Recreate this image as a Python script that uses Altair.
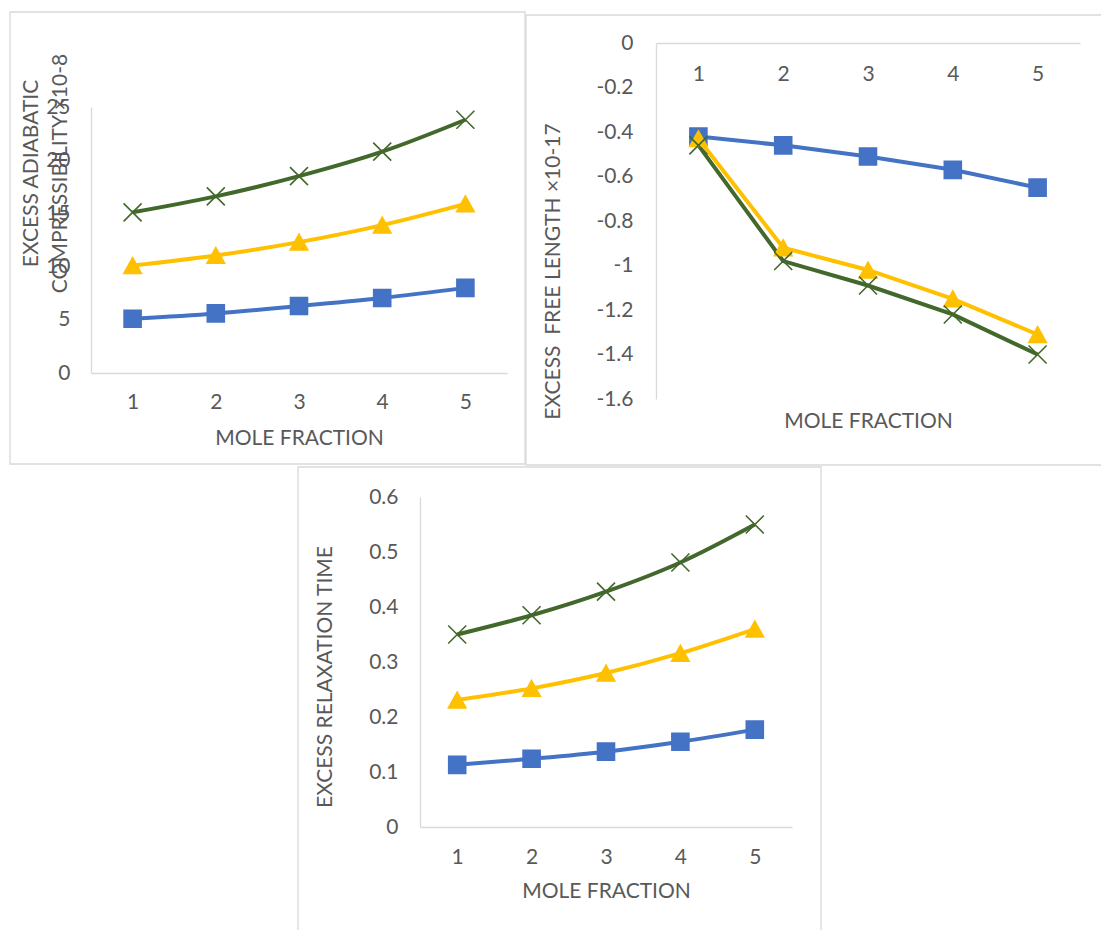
import altair as alt
import pandas as pd

# ---------------- data ----------------
mole_fraction = [1, 2, 3, 4, 5]
series_names = ["Series1", "Series2", "Series3"]
series_colors = ["#4472C4", "#FFC000", "#43682B"]

# Panel 1: excess adiabatic compressibility x10-8
comp_s1 = [5.1, 5.6, 6.3, 7.05, 8.0]
comp_s2 = [10.1, 11.05, 12.3, 13.9, 15.9]
comp_s3 = [15.1, 16.6, 18.5, 20.8, 23.8]

# Panel 2: excess free length x10-17
free_s1 = [-0.42, -0.46, -0.51, -0.57, -0.65]
free_s2 = [-0.43, -0.92, -1.02, -1.15, -1.31]
free_s3 = [-0.46, -0.98, -1.09, -1.22, -1.40]

# Panel 3: excess relaxation time
relax_s1 = [0.113, 0.124, 0.137, 0.155, 0.177]
relax_s2 = [0.231, 0.252, 0.280, 0.316, 0.360]
relax_s3 = [0.350, 0.385, 0.428, 0.481, 0.550]

comp_ticks = [0, 5, 10, 15, 20, 25]
free_ticks = [0, -0.2, -0.4, -0.6, -0.8, -1.0, -1.2, -1.4, -1.6]
relax_ticks = [0, 0.1, 0.2, 0.3, 0.4, 0.5, 0.6]

FONT = "Lato"
TXT = "#595959"
AXC = "#D9D9D9"
FS = 21

TRI = "M0,-0.9L1,0.9L-1,0.9Z"
XSHAPE = "M-1,-1L1,1M-1,1L1,-1"


def to_long(vals_list):
    rows = []
    for s, vals in zip(series_names, vals_list):
        for x, v in zip(mole_fraction, vals):
            rows.append({"series": s, "x": x, "y": v})
    return pd.DataFrame(rows)


color_scale = alt.Scale(domain=series_names, range=series_colors)
shape_scale = alt.Scale(domain=series_names, range=["square", TRI, XSHAPE])
size_scale = alt.Scale(domain=series_names, range=[289, 324, 225])


def panel(df, xr, x_axis_y, yr, ydom, yticks, y_axis_x, ytitle, ytitle_x,
          ytitle_y, xtitle_y, xlabpad, ylabpad, interp, label_expr=None,
          yformat=None):
    xaxis = alt.Axis(
        orient="bottom", offset=x_axis_y - 930, labelAngle=0, ticks=False,
        grid=False, domainColor=AXC, domainWidth=1.3, labelColor=TXT,
        labelFont=FONT, labelFontSize=FS, labelPadding=xlabpad,
        title="MOLE FRACTION", titleFont=FONT, titleFontSize=FS,
        titleFontWeight="normal", titleColor=TXT,
        titleX=(xr[0] + xr[1]) / 2, titleY=xtitle_y - x_axis_y,
        titleAlign="center", titleBaseline="alphabetic",
    )
    yaxis_kw = dict(
        orient="left", offset=-y_axis_x, values=yticks, ticks=False,
        grid=False, domainColor=AXC, domainWidth=1.3, labelColor=TXT,
        labelFont=FONT, labelFontSize=FS, labelPadding=ylabpad,
        title=ytitle, titleFont=FONT, titleFontSize=FS,
        titleFontWeight="normal", titleColor=TXT, titleAngle=270,
        titleX=ytitle_x - y_axis_x, titleY=ytitle_y, titleAlign="center",
        titleBaseline="alphabetic", titleLineHeight=29,
    )
    if label_expr:
        yaxis_kw["labelExpr"] = label_expr
    if yformat:
        yaxis_kw["format"] = yformat
    yaxis = alt.Axis(**yaxis_kw)

    x_enc = alt.X("x:O", scale=alt.Scale(range=xr, padding=0.5), axis=xaxis)
    y_enc = alt.Y("y:Q", scale=alt.Scale(domain=ydom, range=yr, nice=False,
                                         zero=False), axis=yaxis)
    line = alt.Chart().mark_line(strokeWidth=4, interpolate=interp).encode(
        x=x_enc, y=y_enc,
        color=alt.Color("series:N", scale=color_scale, legend=None),
        detail="series:N",
    )
    pts = alt.Chart().mark_point(filled=True, opacity=1, strokeWidth=1.6).encode(
        x=alt.X("x:O"), y=alt.Y("y:Q"),
        color=alt.Color("series:N", scale=color_scale, legend=None),
        stroke=alt.Stroke("series:N", scale=color_scale, legend=None),
        shape=alt.Shape("series:N", scale=shape_scale, legend=None),
        size=alt.Size("series:N", scale=size_scale, legend=None),
    )
    return alt.layer(line, pts, data=df)


p1 = panel(to_long([comp_s1, comp_s2, comp_s3]),
           xr=[91, 507], x_axis_y=373, yr=[373, 107], ydom=[0, 25],
           yticks=comp_ticks, y_axis_x=91,
           ytitle=["EXCESS ADIABATIC", "COMPRESSIBILITY ×10-8"],
           ytitle_x=37.5, ytitle_y=173, xtitle_y=444.5, xlabpad=18,
           ylabpad=21, interp="monotone")

p2 = panel(to_long([free_s1, free_s2, free_s3]),
           xr=[656, 1080], x_axis_y=43, yr=[399, 43], ydom=[-1.6, 0],
           yticks=free_ticks, y_axis_x=656,
           ytitle="EXCESS\u00a0 FREE LENGTH ×10-17",
           ytitle_x=559, ytitle_y=271, xtitle_y=427.5, xlabpad=20,
           ylabpad=23, interp="linear",
           label_expr="datum.value < 0 ? '-' + format(-datum.value, '.1~f') : format(datum.value, '.1~f')")

p3 = panel(to_long([relax_s1, relax_s2, relax_s3]),
           xr=[420, 792], x_axis_y=827, yr=[827, 497], ydom=[0, 0.6],
           yticks=relax_ticks, y_axis_x=420,
           ytitle="EXCESS RELAXATION TIME",
           ytitle_x=331.5, ytitle_y=676.5, xtitle_y=897.5, xlabpad=19,
           ylabpad=22, interp="monotone", yformat=".1~f")


def border(x0, y0, x1, y1):
    return alt.Chart(alt.Data(values=[{"k": 1}])).mark_rect(
        fillOpacity=0, stroke="#D9D9D9", strokeWidth=1.3
    ).encode(x=alt.value(x0), x2=alt.value(x1), y=alt.value(y0), y2=alt.value(y1))


chart = alt.layer(
    border(10, 12, 525, 464),
    border(526, 15, 1110, 465),
    border(298, 467, 821, 940),
    p1, p2, p3,
).resolve_scale(
    x="independent", y="independent"
).properties(
    width=1101, height=930, autosize=alt.AutoSizeParams(type="none"),
    padding=0, background="white",
).configure_view(stroke=None)

chart.save("out.html", embed_options={"renderer": "svg", "actions": False})
